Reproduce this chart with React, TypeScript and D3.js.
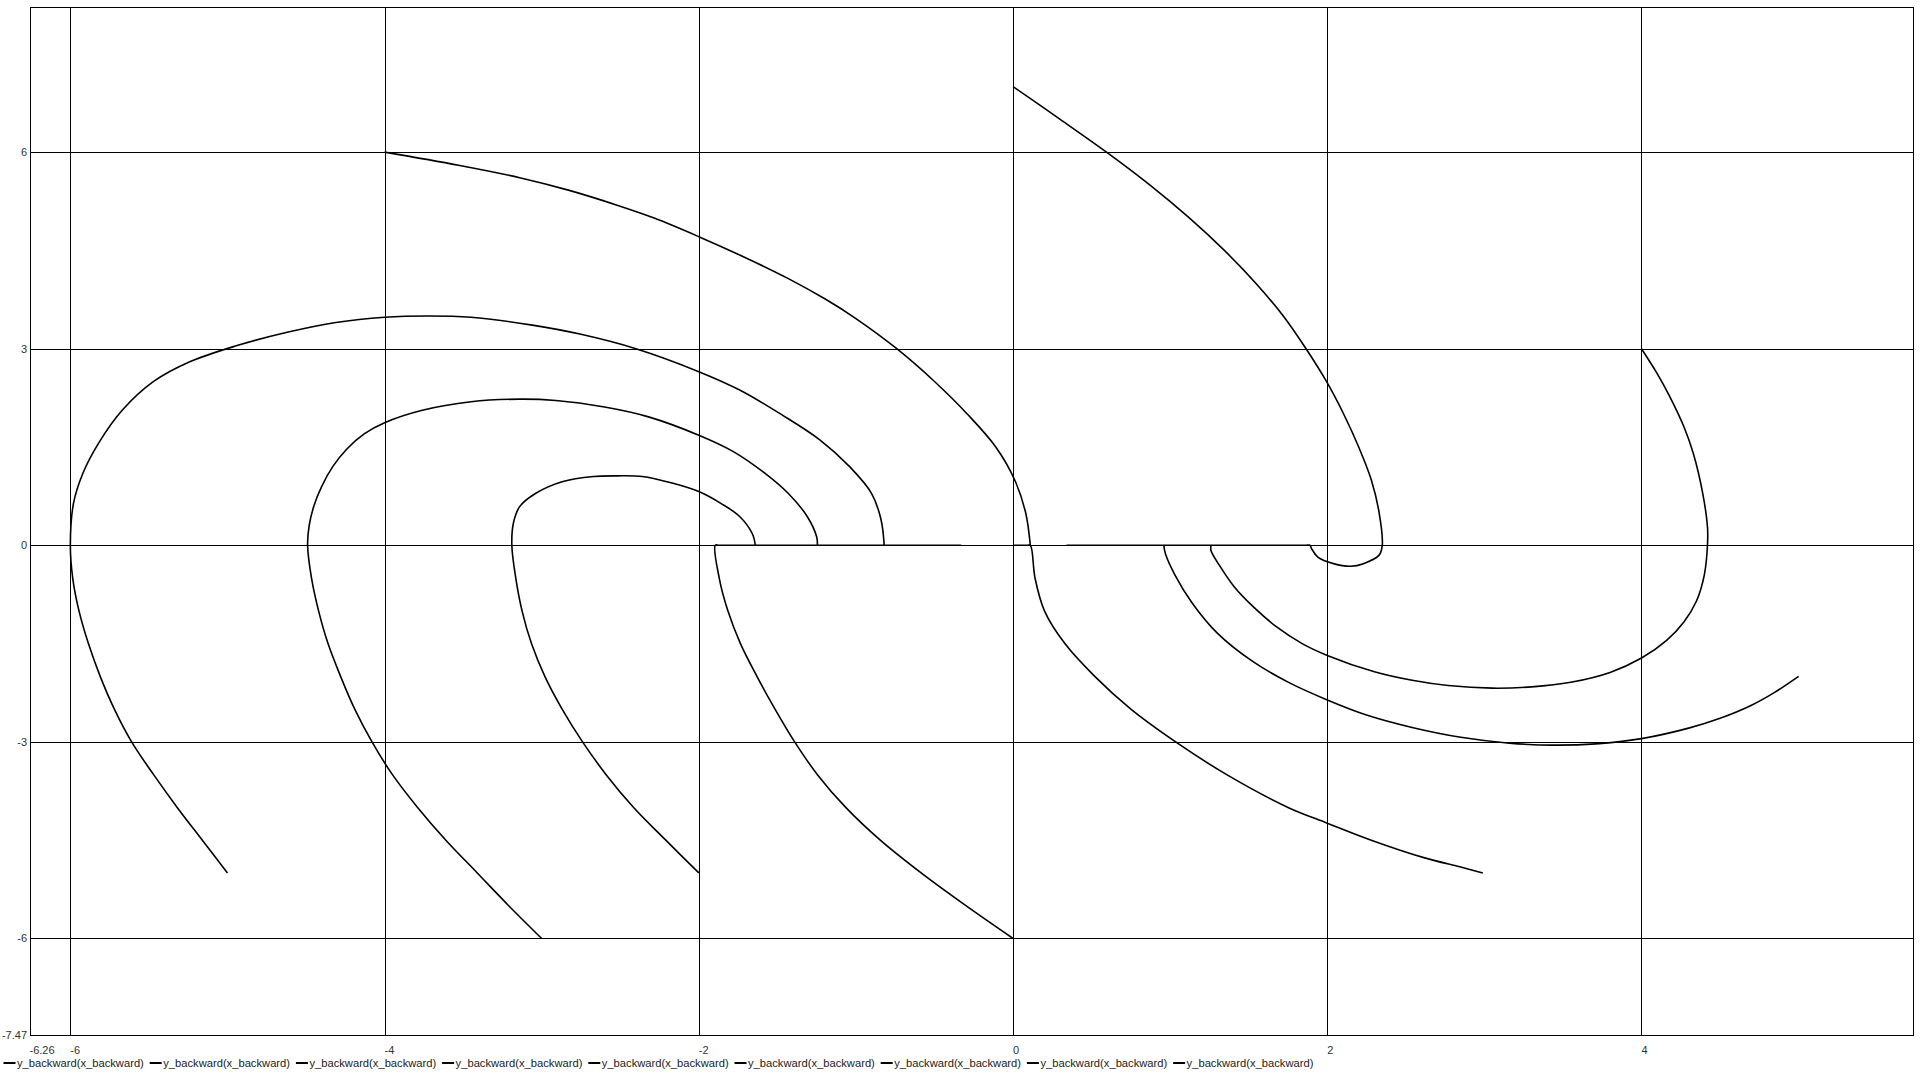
import React from 'react';
import * as d3 from 'd3';

// trajectories, one per seed point
const trajFrom0_7 = [
  [0, 7.0], [0.3, 6.5], [0.595, 6.0], [0.87, 5.5], [1.12, 5.0], [1.345, 4.5], [1.545, 4.0],
  [1.72, 3.5], [1.865, 3.0], [1.995, 2.5], [2.105, 2.0], [2.2, 1.5], [2.28, 1.0], [2.33, 0.5],
  [2.35, 0], [2.33, -0.15], [2.23, -0.28], [2.15, -0.32], [2.04, -0.28], [1.94, -0.18], [1.9, -0.05],
  [1.89, 0], [1.86, 0], [1.2, 0], [0.34, 0],
];
const trajFrom4_3 = [
  [4.0, 3.0], [4.1, 2.62], [4.18, 2.27], [4.27, 1.81], [4.33, 1.4], [4.39, 0.79], [4.42, 0.28],
  [4.42, 0], [4.4, -0.45], [4.35, -0.85], [4.27, -1.17], [4.16, -1.45], [4.0, -1.72], [3.8, -1.94],
  [3.55, -2.09], [3.3, -2.16], [3.05, -2.18], [2.77, -2.14], [2.54, -2.06], [2.3, -1.93],
  [2.0, -1.68], [1.84, -1.5], [1.68, -1.25], [1.53, -0.94], [1.41, -0.64], [1.32, -0.33],
  [1.26, -0.08], [1.26, 0],
];
const trajFrom5_m2 = [
  [5.0, -2.0], [4.85, -2.24], [4.7, -2.44], [4.5, -2.64], [4.3, -2.79], [4.0, -2.95], [3.71, -3.03],
  [3.44, -3.05], [3.16, -3.02], [2.85, -2.93], [2.54, -2.78], [2.25, -2.59], [2.0, -2.36], [1.76, -2.1],
  [1.53, -1.78], [1.3, -1.34], [1.14, -0.88], [1.03, -0.45], [0.97, -0.13], [0.96, 0],
];
const trajFrom3_m5 = [
  [2.99, -5.0], [2.85, -4.91], [2.62, -4.77], [2.28, -4.5], [2.0, -4.24], [1.75, -4.0], [1.36, -3.5],
  [1.035, -3.0], [0.75, -2.5], [0.52, -2.0], [0.33, -1.5], [0.2, -1.0], [0.14, -0.5], [0.11, 0],
  [0.09, 0], [0, 0],
];
const trajFrom0_m6 = [
  [0, -6.0], [-0.3, -5.5], [-0.585, -5.0], [-0.845, -4.5], [-1.065, -4.0], [-1.245, -3.5],
  [-1.39, -3.0], [-1.515, -2.5], [-1.63, -2.0], [-1.735, -1.5], [-1.815, -1.0], [-1.87, -0.5],
  [-1.895, 0], [-1.87, 0], [-1.2, 0], [-0.33, 0],
];
const trajFromM2_m5 = [
  [-2.0, -5.0], [-2.21, -4.5], [-2.415, -4.0], [-2.59, -3.5], [-2.74, -3.0], [-2.87, -2.5],
  [-2.98, -2.0], [-3.065, -1.5], [-3.125, -1.0], [-3.165, -0.5], [-3.19, 0], [-3.18, 0.34],
  [-3.14, 0.59], [-3.04, 0.79], [-2.87, 0.97], [-2.67, 1.05], [-2.52, 1.06], [-2.36, 1.05],
  [-2.17, 0.95], [-2.0, 0.82], [-1.86, 0.64], [-1.74, 0.44], [-1.66, 0.18], [-1.64, 0],
];
const trajFromM3_m6 = [
  [-3.0, -6.0], [-3.21, -5.5], [-3.41, -5.0], [-3.61, -4.5], [-3.79, -4.0], [-3.95, -3.5],
  [-4.08, -3.0], [-4.19, -2.5], [-4.28, -2.0], [-4.36, -1.5], [-4.42, -1.0], [-4.465, -0.5],
  [-4.49, 0], [-4.48, 0.3], [-4.45, 0.6], [-4.4, 0.9], [-4.33, 1.2], [-4.24, 1.47], [-4.13, 1.7],
  [-4.0, 1.87], [-3.76, 2.06], [-3.45, 2.19], [-3.14, 2.23], [-2.91, 2.21], [-2.6, 2.11],
  [-2.32, 1.96], [-2.0, 1.68], [-1.78, 1.43], [-1.58, 1.1], [-1.43, 0.79], [-1.31, 0.44],
  [-1.25, 0.13], [-1.245, 0],
];
const trajFromM5_m5 = [
  [-5.0, -5.0], [-5.16, -4.5], [-5.32, -4.0], [-5.47, -3.5], [-5.61, -3.0], [-5.72, -2.5],
  [-5.81, -2.0], [-5.885, -1.5], [-5.945, -1.0], [-5.985, -0.5], [-6.0, 0], [-5.98, 0.64],
  [-5.92, 1.1], [-5.82, 1.56], [-5.67, 2.06], [-5.47, 2.5], [-5.24, 2.8], [-4.95, 3.04],
  [-4.62, 3.25], [-4.31, 3.4], [-4.0, 3.48], [-3.72, 3.5], [-3.45, 3.48], [-3.06, 3.36],
  [-2.75, 3.22], [-2.4, 3.0], [-2.0, 2.65], [-1.74, 2.37], [-1.47, 1.99], [-1.23, 1.61],
  [-1.04, 1.2], [-0.9, 0.79], [-0.84, 0.39], [-0.82, 0],
];
const trajFromM4_6 = [
  [-4.0, 6.0], [-3.53, 5.8], [-3.14, 5.61], [-2.83, 5.42], [-2.52, 5.19], [-2.28, 4.99], [-2.0, 4.71],
  [-1.74, 4.43], [-1.43, 4.07], [-1.19, 3.75], [-1.0, 3.46], [-0.74, 3.0], [-0.5, 2.5], [-0.29, 2.0],
  [-0.11, 1.5], [0.01, 1.0], [0.08, 0.5], [0.11, 0],
];

const series = [
  trajFrom0_7, trajFrom4_3, trajFrom5_m2, trajFrom3_m5, trajFrom0_m6,
  trajFromM2_m5, trajFromM3_m6, trajFromM5_m5, trajFromM4_6,
];
const seriesNames = series.map(() => 'y_backward(x_backward)');

const xDomain = [-6.26, 5.73];
const yDomain = [-7.47, 8.21];
const xTicks = [-6, -4, -2, 0, 2, 4];
const yTicks = [-6, -3, 0, 3, 6];

const W = 1920;
const H = 1075;
const font = '"Liberation Sans", Arial, sans-serif';

const App = () => {
  const x = d3.scaleLinear().domain(xDomain).range([29.5, 1913.3]);
  const y = d3.scaleLinear().domain(yDomain).range([1034.8, 7.3]);
  const px = (v: number) => Math.round(x(v)) + 0.5;
  const py = (v: number) => Math.round(y(v)) + 0.5;

  const line = d3.line<number[]>()
    .x(d => x(d[0]))
    .y(d => y(d[1]))
    .curve(d3.curveCatmullRom.alpha(0.5));

  const left = px(xDomain[0]);
  const right = px(xDomain[1]);
  const top = py(yDomain[1]);
  const bottom = py(yDomain[0]);

  return (
    <svg width={W} height={H} style={{ position: 'absolute', left: 0, top: 0, background: '#fff' }}>
      <rect x={0} y={0} width={W} height={H} fill="#fff" />
      {/* grid */}
      {xTicks.map(t => (
        <line key={'gx' + t} x1={px(t)} x2={px(t)} y1={top} y2={bottom} stroke="#000" strokeWidth={1} />
      ))}
      {yTicks.map(t => (
        <line key={'gy' + t} x1={left} x2={right} y1={py(t)} y2={py(t)} stroke="#000" strokeWidth={1} />
      ))}
      <rect x={left} y={top} width={right - left} height={bottom - top} fill="none" stroke="#000" strokeWidth={1} />

      {/* trajectories */}
      {series.map((s, i) => (
        <path key={i} d={line(s) || ''} fill="none" stroke="#000" strokeWidth={1.6} strokeLinejoin="round" />
      ))}

      {/* y labels */}
      <g fontFamily={font} fontSize={11} fill="#333" textAnchor="end">
        {yTicks.map(t => (
          <text key={'ly' + t} x={27} y={y(t) + 4}>{t}</text>
        ))}
        <text x={27} y={y(yDomain[0]) + 4}>{yDomain[0]}</text>
      </g>

      {/* x labels */}
      <g fontFamily={font} fontSize={11} fill="#333" textAnchor="start">
        <text x={x(xDomain[0])} y={1053.5}>{xDomain[0]}</text>
        {xTicks.map(t => (
          <text key={'lx' + t} x={x(t)} y={1053.5}>{t}</text>
        ))}
      </g>

      {/* legend */}
      <g fontFamily={font} fontSize={11.2} fill="#222">
        {seriesNames.map((name, i) => {
          const x0 = 3.5 + i * 146.2;
          return (
            <g key={'lg' + i}>
              <line x1={x0} x2={x0 + 12} y1={1063} y2={1063} stroke="#000" strokeWidth={2} />
              <text x={x0 + 13.5} y={1066.5}>{name}</text>
            </g>
          );
        })}
      </g>
    </svg>
  );
};

export default App;
